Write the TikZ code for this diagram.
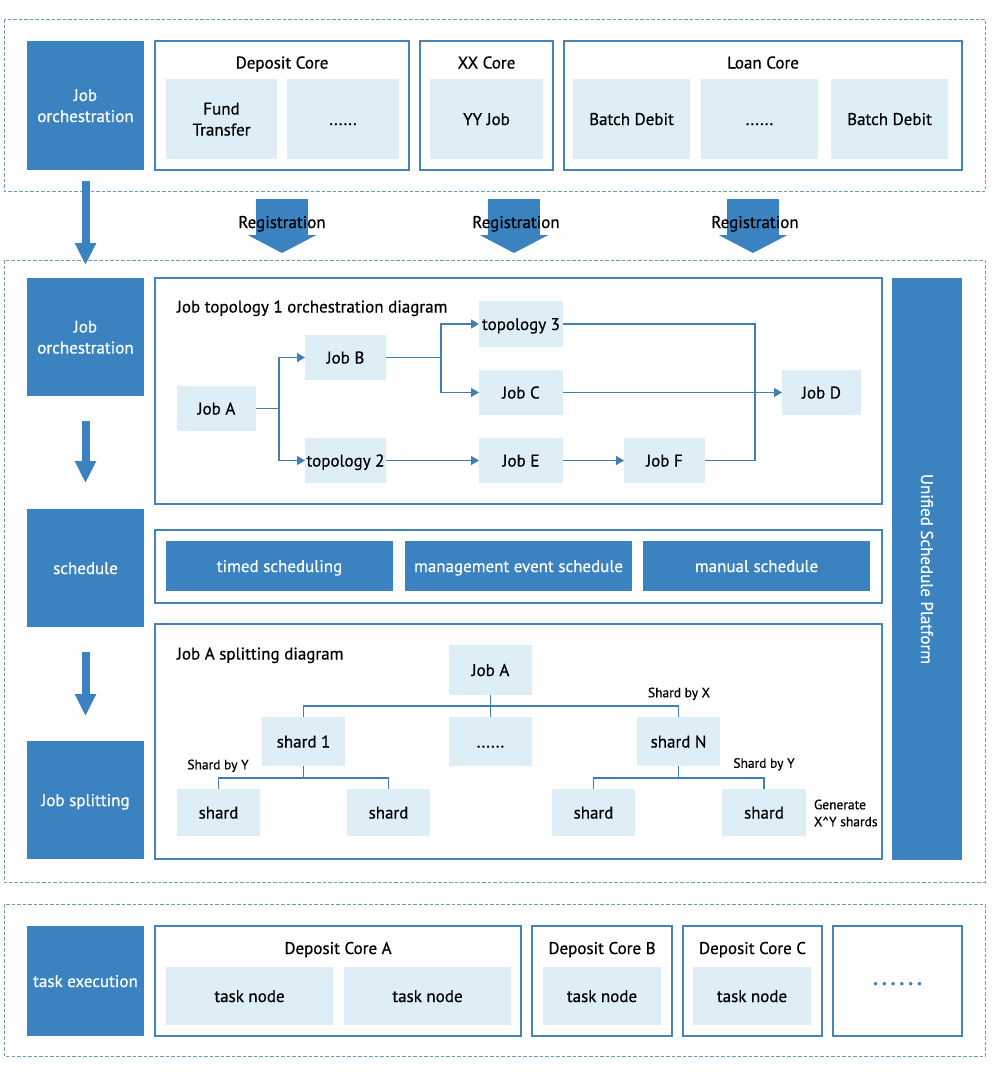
\documentclass[tikz,border=0pt]{standalone}
\usepackage{fontspec}
\setmainfont{PT Sans}[FakeBold=0.6]
\usetikzlibrary{arrows.meta}
\definecolor{dblue}{HTML}{3A82C0}
\definecolor{lblue}{HTML}{DDEEF7}
\definecolor{bblue}{HTML}{4683B8}
\definecolor{dashc}{HTML}{6A9BC3}
\definecolor{linec}{HTML}{3F7FB6}
\begin{document}
\begin{tikzpicture}[x=1pt,y=-1pt,
 every node/.style={font=\fontsize{17}{21}\selectfont, inner sep=0pt, outer sep=0pt, text height=12pt, text depth=0pt},
 dark/.style={fill=dblue, text=white, align=center},
 cont/.style={draw=bblue, line width=1.3pt, fill=white},
 light/.style={fill=lblue, align=center},
 twoline/.style={text height=33pt, text depth=0pt},
 dashbox/.style={draw=dashc, line width=1pt, dash pattern=on 3.5pt off 2pt},
 conn/.style={draw=linec, line width=1.5pt},
 arr/.style={conn, -{Triangle[width=9pt,length=8pt]}},
 small/.style={font=\fontsize{13.5}{16}\selectfont, text height=9.5pt},
 bigarrow/.style={draw=dblue, line width=8pt, -{Triangle[width=20pt,length=22pt]}},
 regarrow/.style={draw=dblue, line width=52pt, -{Triangle[width=68pt,length=18pt]}},
]
\useasboundingbox (0,0) rectangle (992,1072);
\fill[white] (0,0) rectangle (992,1072);

% dashed frames
\draw[dashbox] (4,19) rectangle (985,191);
\draw[dashbox] (4,260) rectangle (985,882);
\draw[dashbox] (4,904) rectangle (985,1056);

% ---------- top band ----------
\node[dark, twoline, minimum width=117pt, minimum height=129pt] (jo1) at (85.5,105.5) {Job\\orchestration};
\node[cont, minimum width=254pt, minimum height=129pt] (dc) at (282,105.5) {};
\node (dct) at (282,62.5) {Deposit Core};
\node[light, twoline, minimum width=111pt, minimum height=80pt] (ft) at (221.5,119) {Fund\\Transfer};
\node[light, minimum width=112pt, minimum height=80pt] (dd1) at (343,119) {......};
\node[cont, minimum width=133pt, minimum height=129pt] (xx) at (486.5,105.5) {};
\node (xxt) at (486.5,62.5) {XX Core};
\node[light, minimum width=113pt, minimum height=80pt] (yy) at (486.5,119) {YY Job};
\node[cont, minimum width=398pt, minimum height=129pt] (lc) at (763,105.5) {};
\node (lct) at (763,62.5) {Loan Core};
\node[light, minimum width=117pt, minimum height=80pt] (bd1) at (631.5,119) {Batch Debit};
\node[light, minimum width=117pt, minimum height=80pt] (dd2) at (759.5,119) {......};
\node[light, minimum width=117pt, minimum height=80pt] (bd2) at (889.5,119) {Batch Debit};

% registration arrows
\coordinate (r1s) at (282,199); \coordinate (r1e) at (282,253);
\coordinate (r2s) at (514,199); \coordinate (r2e) at (514,253);
\coordinate (r3s) at (753,199); \coordinate (r3e) at (753,253);
\draw[regarrow] (r1s) -- (r1e);
\draw[regarrow] (r2s) -- (r2e);
\draw[regarrow] (r3s) -- (r3e);
\node (reg1) at (282,222) {Registration};
\node (reg2) at (516,222) {Registration};
\node (reg3) at (755,222) {Registration};

% ---------- middle band ----------
\node[dark, twoline, minimum width=117pt, minimum height=118pt] (jo2) at (85.5,337) {Job\\orchestration};
\node[dark, minimum width=117pt, minimum height=118pt] (sch) at (85.5,568) {schedule};
\node[dark, minimum width=117pt, minimum height=118pt] (js) at (85.5,800) {Job splitting};

\draw[bigarrow] ([yshift=-11pt]jo1.south) -- ([yshift=13pt]jo2.north);
\draw[bigarrow] ([yshift=-25pt]jo2.south) -- ([yshift=26pt]sch.north);
\draw[bigarrow] ([yshift=-25pt]sch.south) -- ([yshift=25pt]js.north);

% topology box
\node[cont, minimum width=727pt, minimum height=226pt] (topo) at (518.5,391) {};
\node[anchor=west] (topot) at (177,306.5) {Job topology 1 orchestration diagram};
\node[light, minimum width=79pt, minimum height=45pt] (ja) at (216.5,408.5) {Job A};
\node[light, minimum width=81pt, minimum height=45pt] (jb) at (345.5,357.5) {Job B};
\node[light, minimum width=81pt, minimum height=45pt] (t2) at (345.5,460.5) {topology 2};
\node[light, minimum width=84pt, minimum height=46pt] (t3) at (521,324) {topology 3};
\node[light, minimum width=84pt, minimum height=45pt] (jc) at (521,392.5) {Job C};
\node[light, minimum width=84pt, minimum height=45pt] (je) at (521,460.5) {Job E};
\node[light, minimum width=81pt, minimum height=45pt] (jf) at (664.5,460.5) {Job F};
\node[light, minimum width=79pt, minimum height=45pt] (jd) at (821.5,392.5) {Job D};

\coordinate (sa) at (279,408.5);
\coordinate (sb) at (441,357.5);
\coordinate (md) at (755,392.5);
\draw[conn] (ja.east) -- (sa);
\draw[arr] (sa) |- (jb.west);
\draw[arr] (sa) |- (t2.west);
\draw[conn] (jb.east) -- (sb);
\draw[arr] (sb) |- (t3.west);
\draw[arr] (sb) |- (jc.west);
\draw[arr] (t2.east) -- (je.west);
\draw[arr] (je.east) -- (jf.west);
\draw[conn] (t3.east) -| (md);
\draw[conn] (jf.east) -| (md);
\draw[arr] (jc.east) -- (jd.west);

% schedule box
\node[cont, minimum width=727pt, minimum height=73pt] (schb) at (518.5,566.5) {};
\node[dark, minimum width=227pt, minimum height=50pt] (ts) at (279.5,566) {timed scheduling};
\node[dark, minimum width=227pt, minimum height=50pt] (ms) at (518.5,566) {management event schedule};
\node[dark, minimum width=227pt, minimum height=50pt] (mans) at (756.5,566) {manual schedule};

% splitting box
\node[cont, minimum width=727pt, minimum height=235pt] (spb) at (518.5,741.5) {};
\node[anchor=west] (spt) at (177,653.5) {Job A splitting diagram};
\node[light, minimum width=83pt, minimum height=50pt] (ja2) at (490.5,670) {Job A};
\node[light, minimum width=83pt, minimum height=49pt] (sh1) at (303.5,741.5) {shard 1};
\node[light, minimum width=83pt, minimum height=49pt] (shd) at (490.5,741.5) {......};
\node[light, minimum width=83pt, minimum height=49pt] (shn) at (678.5,741.5) {shard N};
\node[light, minimum width=83pt, minimum height=47pt] (s11) at (218.5,812.5) {shard};
\node[light, minimum width=83pt, minimum height=47pt] (s12) at (388.5,812.5) {shard};
\node[light, minimum width=83pt, minimum height=47pt] (sn1) at (593.5,812.5) {shard};
\node[light, minimum width=84pt, minimum height=47pt] (sn2) at (764,812.5) {shard};

\coordinate (hx) at (490.5,706);
\coordinate (h1) at (303.5,778);
\coordinate (hn) at (678.5,778);
\draw[conn] (ja2.south) -- (hx) -- (shd.north);
\draw[conn] (sh1.north) |- (hx) -| (shn.north);
\draw[conn] (sh1.south) -- (h1);
\draw[conn] (s11.north) |- (h1) -| (s12.north);
\draw[conn] (shn.south) -- (hn);
\draw[conn] (sn1.north) |- (hn) -| (sn2.north);

\node[small] (lx) at (679,692.5) {Shard by X};
\node[small] (ly1) at (218,764.5) {Shard by Y};
\node[small] (ly2) at (764,763) {Shard by Y};
\node[small, anchor=west, align=left, font=\fontsize{13.5}{17}\selectfont, text height=26.5pt, text depth=0pt] (gen) at (814,813) {Generate\\X\textasciicircum Y shards};

% unified platform
\node[dark, rotate=-90, minimum width=582pt, minimum height=70pt] (usp) at (927,569) {Unified Schedule Platform};

% ---------- bottom band ----------
\node[dark, minimum width=117pt, minimum height=110pt] (te) at (85.5,981) {task execution};
\node[cont, minimum width=366pt, minimum height=110pt] (dca) at (338,981) {};
\node (dcat) at (338,948) {Deposit Core A};
\node[light, minimum width=167pt, minimum height=58pt] (tn1) at (249.5,996) {task node};
\node[light, minimum width=167pt, minimum height=58pt] (tn2) at (427.5,996) {task node};
\node[cont, minimum width=140pt, minimum height=110pt] (dcb) at (602,981) {};
\node (dcbt) at (602,948) {Deposit Core B};
\node[light, minimum width=118pt, minimum height=58pt] (tn3) at (602,996) {task node};
\node[cont, minimum width=139pt, minimum height=110pt] (dcc) at (752.5,981) {};
\node (dcct) at (752.5,948) {Deposit Core C};
\node[light, minimum width=118pt, minimum height=58pt] (tn4) at (752,996) {task node};
\node[cont, minimum width=129pt, minimum height=110pt] (dcd) at (897.5,981) {};
\node[text=dblue, anchor=base, font=\fontsize{20}{20}\bfseries\addfontfeature{LetterSpace=18}] (dots) at (897.5,985) {......};
\end{tikzpicture}
\end{document}
